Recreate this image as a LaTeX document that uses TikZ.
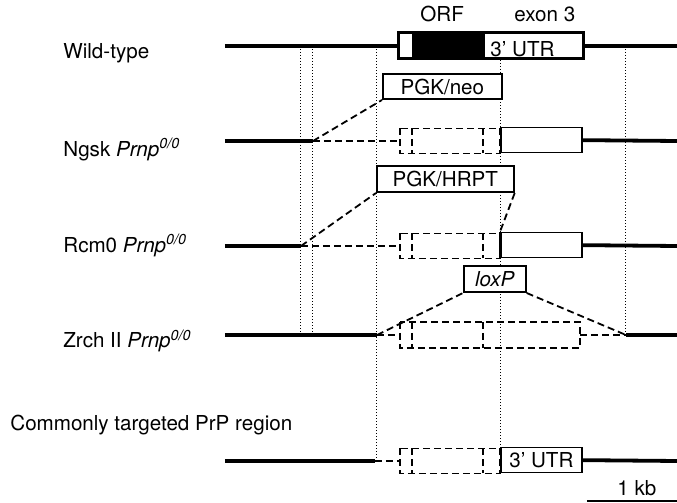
\documentclass[tikz,border=0pt]{standalone}
\usepackage{fontspec}
\setmainfont{TeX Gyre Heros}
\usetikzlibrary{positioning}
\tikzset{
  dna/.style={line width=1.9pt},
  gap/.style={line width=0.9pt, dash pattern=on 3.5pt off 2pt},
  guide/.style={line width=0.5pt, densely dotted},
  exonbox/.style={draw, line width=0.85pt, fill=white, inner sep=0pt,
                  anchor=south west, font=\fontsize{10.3}{12}\selectfont},
  rowlabel/.style={anchor=base west, inner sep=0pt, font=\fontsize{10.3}{12}\selectfont},
}
\newcommand{\prnpoo}{\textit{Prnp}\textsuperscript{\textit{0/0}}}

\begin{document}
\begin{tikzpicture}[x=0.5pt, y=-0.5pt]
  \useasboundingbox (0,0) rectangle (677,503);

  % Guide lines
  \draw[guide] (301,49) -- (301,335);
  \draw[guide] (313,49) -- (313,335);
  \draw[guide] (377,49) -- (377,461);
  \draw[guide] (501,60) -- (501,449);
  \draw[guide] (626,49) -- (626,335);

  % Wild-type
  \node[rowlabel] (wtlab) at (63,59) {Wild-type};
  \draw[dna] (225,46) -- (677,46);
  \node[exonbox, minimum width=92pt, minimum height=12.5pt] (wt) at (398,59) {};
  \fill[black] (412,34) rectangle (485,59);
  \draw[line width=0.85pt] (wt.south west) rectangle (wt.north east);
  \node[rowlabel] (wtutr) at (490,56) {3' UTR};
  \node[rowlabel] (orf) at (420,21) {ORF};
  \node[rowlabel] (exon) at (514,21) {exon 3};

  % Ngsk
  \node[rowlabel] (nglab) at (63,156) {Ngsk \prnpoo};
  \coordinate (ngL) at (313,141);
  \draw[dna] (225,141) -- (ngL);
  \draw[gap] (ngL) -- (400,141);
  \node[exonbox, minimum width=59.5pt, minimum height=12.5pt] (neo) at (382,100) {PGK/neo};
  \draw[gap] (ngL) -- (neo.south west);

  % Rcm0
  \node[rowlabel] (rclab) at (63,252) {Rcm0 \prnpoo};
  \coordinate (rcL) at (301,246);
  \draw[dna] (225,246) -- (rcL);
  \draw[gap] (rcL) -- (400,246);
  \node[exonbox, minimum width=68.5pt, minimum height=13pt] (hrpt) at (376,193) {PGK/HRPT};
  \draw[gap] (rcL) -- (hrpt.south west);

  % Zrch II
  \node[rowlabel] (zrlab) at (63,348) {Zrch II \prnpoo};
  \coordinate (zrL) at (377,335);
  \coordinate (zrR) at (626,335);
  \draw[dna] (225,335) -- (zrL);
  \draw[gap] (zrL) -- (400,335);
  \draw[gap] (580,335) -- (zrR);
  \draw[dna] (zrR) -- (677,335);
  \draw[gap] (400,322) rectangle (580,348);
  \draw[gap] (412,322) -- (412,348);
  \draw[gap] (483,322) -- (483,348);
  \node[exonbox, minimum width=31pt, minimum height=13pt] (lox) at (463,293) {\textit{loxP}};
  \draw[gap] (zrL) -- (lox.south west);
  \draw[gap] (lox.south east) -- (zrR);

  % Commonly targeted region
  \node[rowlabel] (cmlab) at (10,430) {Commonly targeted PrP region};
  \coordinate (cmL) at (375,461);
  \draw[dna] (225,461) -- (cmL);
  \draw[gap] (cmL) -- (400,461);

  % Deleted ORF (dashed) and remaining 3' UTR
  \foreach \yc/\nm/\txt in {141/ngB/{}, 246/rcB/{}, 461/cmB/{3' UTR}} {
    \draw[gap] (400,\yc-12.5) rectangle (500,\yc+12.5);
    \draw[gap] (412,\yc-12.5) -- (412,\yc+12.5);
    \draw[gap] (483,\yc-12.5) -- (483,\yc+12.5);
    \node[exonbox, minimum width=40.5pt, minimum height=12.5pt] (\nm) at (500,\yc+12.5) {\txt};
    \draw[dna] (\nm.east) -- (677,\yc);
  }
  \draw[line width=1.4pt] (rcB.south west) -- (rcB.north west);
  \draw[gap] (hrpt.south east) -- (rcB.north west);

  % Scale bar
  \node[rowlabel] (kb) at (617,495) {1 kb};
  \coordinate (sbL) at (587,501);
  \coordinate (sbR) at (677,501);
  \draw[line width=1.1pt] (sbL) -- (sbR);
\end{tikzpicture}
\end{document}
